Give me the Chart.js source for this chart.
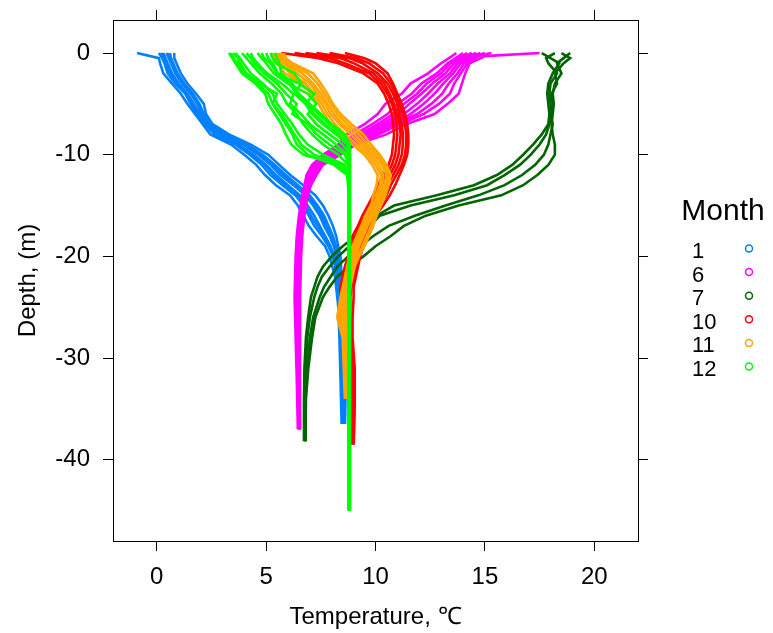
<!DOCTYPE html>
<html lang="en">
<head>
  <meta charset="UTF-8">
  <title>Temperature profiles by month</title>
  <script src="https://cdn.jsdelivr.net/npm/chart.js"></script>
  <style>
    body { margin: 0; background: #fff; }
  </style>
</head>
<body>
  <canvas id="profiles" width="773" height="633"></canvas>
  <script>
    const months = ['1', '6', '7', '10', '11', '12'];
    const monthColors = ['#0080ff', '#ff00ff', '#006400', '#ff0000', '#ffa500', '#00ff00'];
    const xTicks = [0, 5, 10, 15, 20];
    const yTicks = [0, -10, -20, -30, -40];

    // month 1
    const depthJan = [0, -0.5, -1, -2, -3, -4, -5, -6, -7, -8, -9, -10, -11, -12, -13, -14, -15, -16, -17, -18, -19, -20, -22, -25, -28, -32, -36.5];
    const janA = [-0.9, 0.1, 0.15, 0.3, 0.7, 1.1, 1.4, 1.75, 2.1, 2.45, 3.4, 4.0, 4.55, 4.95, 5.45, 6.1, 6.45, 6.7, 6.95, 7.3, 7.7, 7.9, 8.15, 8.3, 8.35, 8.4, 8.45];
    const janB = [0.1, 0.25, 0.35, 0.5, 0.85, 1.3, 1.55, 1.85, 2.2, 2.65, 3.6, 4.25, 4.8, 5.2, 5.75, 6.35, 6.7, 6.95, 7.2, 7.55, 7.85, 8.05, 8.25, 8.35, 8.4, 8.45, 8.5];
    const janG = [0.2, 0.35, 0.45, 0.6, 0.95, 1.35, 1.6, 1.9, 2.25, 2.7, 3.7, 4.35, 4.95, 5.35, 5.85, 6.45, 6.8, 7.05, 7.35, 7.65, 7.9, 8.1, 8.28, 8.38, 8.42, 8.48, 8.52];
    const janC = [0.3, 0.4, 0.5, 0.7, 1.0, 1.4, 1.7, 1.95, 2.3, 2.8, 3.75, 4.45, 5.0, 5.45, 6.0, 6.55, 6.9, 7.2, 7.45, 7.7, 7.95, 8.1, 8.3, 8.4, 8.45, 8.5, 8.55];
    const janD = [0.45, 0.55, 0.65, 0.85, 1.15, 1.55, 1.85, 2.05, 2.4, 2.95, 3.95, 4.65, 5.2, 5.65, 6.25, 6.8, 7.15, 7.45, 7.65, 7.9, 8.1, 8.2, 8.35, 8.45, 8.5, 8.55, 8.55];
    const janH = [0.55, 0.6, 0.7, 0.9, 1.2, 1.6, 1.9, 2.1, 2.45, 3.0, 4.0, 4.75, 5.3, 5.8, 6.35, 6.9, 7.25, 7.55, 7.75, 7.95, 8.15, 8.25, 8.38, 8.48, 8.52, 8.58, 8.58];
    const janE = [0.6, 0.65, 0.75, 0.95, 1.25, 1.65, 1.95, 2.15, 2.45, 3.1, 4.1, 4.85, 5.4, 5.9, 6.45, 7.0, 7.35, 7.65, 7.85, 8.05, 8.2, 8.3, 8.4, 8.5, 8.55, 8.6, 8.6];
    const janF = [0.8, 0.8, 0.9, 1.1, 1.4, 1.8, 2.15, 2.25, 2.55, 3.3, 4.3, 5.1, 5.6, 6.1, 6.7, 7.25, 7.6, 7.85, 8.05, 8.2, 8.3, 8.4, 8.45, 8.55, 8.6, 8.65, 8.6];

    // month 6
    const depthJun = [0, -0.3, -1, -2, -3, -4, -5, -6, -7, -8, -9, -10, -11, -12, -13, -14, -16, -18, -20, -24, -28, -32, -37];
    const junA = [13.7, 13.5, 13.0, 12.4, 11.6, 11.2, 10.45, 10.1, 9.5, 8.7, 8.3, 7.6, 7.1, 6.85, 6.75, 6.65, 6.5, 6.4, 6.35, 6.3, 6.35, 6.4, 6.45];
    const junB = [14.0, 13.8, 13.3, 12.8, 12.1, 11.65, 11.0, 10.55, 9.85, 9.05, 8.45, 7.75, 7.2, 6.9, 6.8, 6.7, 6.55, 6.45, 6.4, 6.35, 6.4, 6.45, 6.5];
    const junG = [14.2, 13.95, 13.45, 13.0, 12.35, 11.9, 11.3, 10.8, 10.1, 9.25, 8.55, 7.8, 7.25, 6.92, 6.82, 6.71, 6.57, 6.47, 6.42, 6.37, 6.41, 6.46, 6.5];
    const junC = [14.4, 14.1, 13.6, 13.2, 12.6, 12.1, 11.55, 11.05, 10.3, 9.45, 8.65, 7.9, 7.3, 6.95, 6.85, 6.72, 6.6, 6.5, 6.45, 6.4, 6.42, 6.47, 6.5];
    const junI = [14.6, 14.25, 13.75, 13.4, 12.85, 12.4, 11.9, 11.3, 10.5, 9.6, 8.7, 8.0, 7.35, 7.0, 6.88, 6.75, 6.62, 6.52, 6.47, 6.42, 6.45, 6.48, 6.51];
    const junD = [14.8, 14.4, 13.9, 13.55, 13.1, 12.7, 12.2, 11.6, 10.7, 9.8, 8.8, 8.05, 7.4, 7.05, 6.9, 6.78, 6.65, 6.55, 6.5, 6.45, 6.47, 6.5, 6.52];
    const junH = [15.0, 14.55, 14.05, 13.75, 13.35, 13.05, 12.55, 11.9, 10.9, 9.95, 8.9, 8.15, 7.45, 7.12, 6.95, 6.8, 6.68, 6.58, 6.52, 6.48, 6.48, 6.51, 6.53];
    const junE = [15.3, 14.7, 14.2, 13.9, 13.6, 13.4, 12.9, 12.2, 11.1, 10.15, 9.0, 8.25, 7.5, 7.2, 7.0, 6.85, 6.7, 6.6, 6.55, 6.5, 6.5, 6.52, 6.55];
    const junF = [17.5, 15.0, 14.3, 14.1, 13.95, 13.8, 13.3, 12.7, 11.4, 10.5, 9.1, 8.4, 7.6, 7.3, 7.05, 6.9, 6.75, 6.65, 6.6, 6.55, 6.55, 6.55, 6.55];

    // month 7
    const depthJul = [0, -0.5, -1, -2, -3, -4, -5, -6, -7, -8, -9, -10, -11, -12, -13, -14, -15, -16, -17, -18, -19, -20, -21, -22, -23, -24, -26, -28, -31, -34, -38.2];
    const julA = [17.6, 18.0, 18.4, 18.1, 17.9, 17.85, 17.9, 17.95, 17.9, 17.6, 17.2, 16.75, 16.25, 15.55, 14.5, 12.8, 10.85, 10.05, 9.6, 9.1, 8.5, 8.0, 7.6, 7.35, 7.2, 7.05, 6.92, 6.82, 6.75, 6.73, 6.73];
    const julB = [18.2, 17.8, 17.9, 18.3, 18.0, 17.95, 18.0, 18.05, 17.95, 17.8, 17.5, 17.1, 16.6, 15.9, 15.1, 13.6, 11.6, 10.2, 9.75, 9.3, 8.8, 8.3, 7.9, 7.55, 7.35, 7.2, 7.0, 6.88, 6.8, 6.77, 6.77];
    const julC = [18.5, 18.9, 18.6, 18.2, 18.3, 18.05, 18.1, 18.0, 18.1, 18.0, 17.9, 17.7, 17.3, 16.7, 15.9, 14.7, 13.2, 11.8, 10.6, 9.9, 9.3, 8.75, 8.25, 7.95, 7.65, 7.45, 7.15, 7.0, 6.88, 6.8, 6.8];
    const julD = [18.9, 18.6, 18.3, 18.5, 18.2, 18.1, 18.15, 18.1, 18.05, 18.1, 18.2, 18.2, 17.9, 17.4, 16.75, 15.75, 13.8, 12.3, 11.3, 10.7, 10.0, 9.45, 8.8, 8.25, 7.9, 7.6, 7.25, 7.1, 6.93, 6.82, 6.8];

    // month 10
    const depthOct = [0, -0.5, -1, -2, -3, -4, -5, -6, -7, -8, -9, -10, -11, -12, -13, -14, -15, -16, -17, -18, -19, -20, -21, -22, -23, -24, -26, -28, -31, -34, -38.5];
    const octA = [5.7, 7.4, 8.3, 9.45, 10.1, 10.4, 10.6, 10.75, 10.8, 10.85, 10.8, 10.75, 10.6, 10.35, 10.1, 9.9, 9.65, 9.4, 9.2, 8.95, 8.85, 8.75, 8.6, 8.5, 8.4, 8.4, 8.45, 8.6, 8.8, 8.85, 8.85];
    const octB = [6.3, 7.9, 8.6, 9.7, 10.25, 10.55, 10.75, 10.9, 10.95, 11.0, 10.95, 10.9, 10.75, 10.5, 10.25, 10.05, 9.8, 9.55, 9.3, 9.1, 8.95, 8.85, 8.7, 8.6, 8.55, 8.5, 8.55, 8.65, 8.85, 8.9, 8.9];
    const octC = [6.8, 8.4, 9.0, 9.9, 10.4, 10.65, 10.85, 11.0, 11.1, 11.15, 11.1, 11.05, 10.9, 10.65, 10.4, 10.2, 9.9, 9.65, 9.4, 9.2, 9.05, 8.95, 8.85, 8.75, 8.65, 8.6, 8.65, 8.75, 8.9, 8.95, 8.9];
    const octD = [7.3, 8.8, 9.4, 10.1, 10.55, 10.8, 11.0, 11.1, 11.2, 11.25, 11.25, 11.2, 11.05, 10.8, 10.55, 10.35, 10.05, 9.75, 9.5, 9.3, 9.2, 9.05, 8.95, 8.85, 8.8, 8.75, 8.75, 8.8, 8.95, 9.0, 8.95];
    const octE = [7.9, 9.1, 9.7, 10.35, 10.7, 10.9, 11.1, 11.25, 11.35, 11.4, 11.4, 11.35, 11.2, 10.95, 10.7, 10.5, 10.2, 9.9, 9.65, 9.45, 9.35, 9.2, 9.1, 9.0, 8.9, 8.85, 8.85, 8.9, 9.0, 9.05, 9.0];
    const octF = [8.6, 9.5, 10.0, 10.55, 10.8, 11.0, 11.2, 11.35, 11.45, 11.5, 11.5, 11.45, 11.3, 11.1, 10.9, 10.65, 10.35, 10.0, 9.75, 9.55, 9.45, 9.3, 9.2, 9.1, 9.0, 9.0, 8.95, 8.95, 9.05, 9.05, 9.0];

    // month 11
    const depthNov = [0, -0.5, -1, -2, -3, -4, -5, -6, -7, -8, -9, -10, -11, -12, -13, -14, -15, -16, -17, -18, -19, -20, -21, -22, -23, -24, -26, -28, -31, -34];
    const novA = [5.3, 5.4, 5.5, 5.85, 6.65, 7.05, 7.4, 7.65, 7.95, 8.4, 8.95, 9.5, 9.85, 10.1, 10.05, 9.9, 9.8, 9.55, 9.35, 9.15, 8.95, 8.8, 8.7, 8.6, 8.5, 8.4, 8.25, 8.5, 8.55, 8.6];
    const novB = [5.4, 5.5, 5.65, 6.1, 6.8, 7.2, 7.55, 7.8, 8.15, 8.6, 9.15, 9.65, 10.0, 10.25, 10.2, 10.05, 9.9, 9.65, 9.45, 9.25, 9.05, 8.9, 8.78, 8.67, 8.57, 8.5, 8.35, 8.55, 8.6, 8.65];
    const novC = [5.5, 5.6, 5.8, 6.4, 7.0, 7.35, 7.7, 7.95, 8.35, 8.85, 9.35, 9.8, 10.15, 10.35, 10.3, 10.15, 10.0, 9.75, 9.55, 9.35, 9.15, 9.0, 8.85, 8.75, 8.65, 8.58, 8.45, 8.62, 8.65, 8.7];
    const novD = [5.6, 5.7, 5.9, 6.65, 7.15, 7.5, 7.8, 8.1, 8.5, 9.05, 9.5, 9.95, 10.3, 10.5, 10.4, 10.25, 10.1, 9.85, 9.65, 9.45, 9.25, 9.1, 8.93, 8.83, 8.73, 8.66, 8.55, 8.7, 8.72, 8.75];
    const novE = [5.7, 5.8, 6.05, 6.9, 7.35, 7.65, 7.95, 8.25, 8.7, 9.25, 9.65, 10.1, 10.4, 10.6, 10.5, 10.35, 10.2, 9.95, 9.8, 9.6, 9.4, 9.2, 9.0, 8.9, 8.8, 8.73, 8.65, 8.75, 8.76, 8.78];
    const novF = [5.8, 5.9, 6.2, 7.15, 7.5, 7.8, 8.05, 8.4, 8.9, 9.45, 9.8, 10.2, 10.5, 10.7, 10.6, 10.45, 10.25, 10.05, 9.9, 9.7, 9.5, 9.25, 9.05, 8.95, 8.85, 8.8, 8.75, 8.8, 8.8, 8.8];

    // month 12
    const depthDec = [0, -0.5, -1, -2, -3, -4, -5, -6, -7, -8, -9, -10, -11, -12, -14, -17, -20, -25, -30, -35, -40, -45];
    const decA = [3.3, 3.45, 3.6, 3.9, 4.5, 4.95, 5.1, 5.4, 5.7, 5.9, 6.15, 6.7, 8.3, 8.74, 8.76, 8.76, 8.75, 8.76, 8.76, 8.75, 8.76, 8.76];
    const decL = [3.4, 3.5, 3.7, 4.0, 4.6, 5.1, 5.3, 5.6, 5.9, 6.2, 6.4, 6.9, 8.1, 8.7, 8.8, 8.8, 8.8, 8.8, 8.8, 8.8, 8.8, 8.8];
    const decH = [3.5, 3.7, 3.8, 4.1, 4.7, 5.5, 5.3, 5.7, 6.0, 6.3, 6.6, 7.2, 8.5, 8.78, 8.8, 8.8, 8.8, 8.8, 8.8, 8.8, 8.8, 8.8];
    const decB = [3.6, 3.8, 3.95, 4.3, 4.85, 5.3, 5.5, 5.85, 6.2, 6.5, 6.9, 7.6, 8.6, 8.78, 8.8, 8.8, 8.78, 8.8, 8.8, 8.8, 8.8, 8.8];
    const decC = [3.9, 4.1, 4.3, 4.7, 5.25, 5.7, 5.95, 6.4, 6.7, 7.1, 7.6, 8.3, 8.75, 8.8, 8.78, 8.8, 8.8, 8.8, 8.8, 8.8, 8.8, 8.8];
    const decI = [4.1, 4.3, 4.45, 4.9, 5.5, 5.9, 6.4, 6.2, 6.9, 7.3, 7.9, 8.6, 8.8, 8.8, 8.8, 8.8, 8.8, 8.8, 8.8, 8.8, 8.8, 8.8];
    const decD = [4.3, 4.4, 4.6, 5.05, 5.7, 6.25, 6.1, 6.6, 7.0, 7.6, 8.2, 8.7, 8.8, 8.8, 8.8, 8.8, 8.8, 8.8, 8.8, 8.8, 8.8, 8.8];
    const decE = [4.6, 4.8, 5.0, 5.35, 6.0, 6.9, 7.3, 6.9, 7.3, 7.9, 8.5, 8.8, 8.8, 8.8, 8.8, 8.8, 8.8, 8.8, 8.8, 8.8, 8.8, 8.8];
    const decJ = [4.8, 4.9, 5.2, 5.5, 6.5, 7.2, 6.8, 7.1, 7.6, 8.2, 8.7, 8.8, 8.8, 8.8, 8.8, 8.8, 8.8, 8.8, 8.8, 8.8, 8.8, 8.8];
    const decF = [5.0, 5.1, 5.3, 5.55, 6.05, 6.4, 6.9, 7.4, 7.9, 8.5, 8.75, 8.8, 8.8, 8.8, 8.8, 8.8, 8.8, 8.8, 8.8, 8.8, 8.8, 8.8];
    const decK = [5.2, 5.3, 5.45, 6.3, 6.6, 6.3, 6.8, 7.2, 7.7, 8.3, 8.7, 8.8, 8.8, 8.8, 8.8, 8.8, 8.8, 8.8, 8.8, 8.8, 8.8, 8.8];
    const decG = [5.4, 5.5, 5.6, 5.7, 6.2, 6.5, 7.0, 7.5, 8.0, 8.6, 8.82, 8.84, 8.84, 8.84, 8.84, 8.84, 8.84, 8.84, 8.84, 8.84, 8.84, 8.84];

    const groups = [
      [depthJan, [janA, janB, janG, janC, janD, janH, janE, janF]],
      [depthJun, [junA, junB, junG, junC, junI, junD, junH, junE, junF]],
      [depthJul, [julA, julB, julC, julD]],
      [depthOct, [octA, octB, octC, octD, octE, octF]],
      [depthNov, [novA, novB, novC, novD, novE, novF]],
      [depthDec, [decA, decL, decH, decB, decC, decI, decD, decE, decJ, decF, decK, decG]]
    ];

    const fontFamily = '"Liberation Sans", Arial, Helvetica, sans-serif';

    const datasets = [];
    groups.forEach(function([depth, runs], m) {
      runs.forEach(function(temps) {
        datasets.push({
          label: months[m],
          data: temps.map((t, i) => ({ x: t, y: depth[i] })),
          borderColor: monthColors[m],
          backgroundColor: monthColors[m],
          borderWidth: 2.6,
          pointRadius: 0,
          showLine: true,
          fill: false,
          tension: 0,
          order: groups.length - m
        });
      });
    });

    function setTicks(values) {
      return function(scale) {
        scale.ticks = values.map(v => ({ value: v }));
      };
    }

    // fixed axis sizes, and no extra room for half labels at the ends
    function fixSize(prop, size) {
      return function(scale) {
        scale[prop] = size;
        scale.paddingTop = 0;
        scale.paddingBottom = 0;
        scale.paddingLeft = 0;
        scale.paddingRight = 0;
      };
    }

    const tickGrid = { drawOnChartArea: false, drawTicks: true, tickLength: 10, color: '#000', lineWidth: 1 };
    const axisBorder = { display: true, color: '#000', width: 1 };

    const monthKey = {
      id: 'monthKey',
      afterDraw(chart) {
        const ctx = chart.ctx;
        ctx.save();
        ctx.fillStyle = '#000';
        ctx.textBaseline = 'middle';
        ctx.textAlign = 'center';
        ctx.font = '30px ' + fontFamily;
        ctx.fillText('Month', 723, 212);
        ctx.font = '22px ' + fontFamily;
        ctx.textAlign = 'left';
        months.forEach(function(m, i) {
          const y = 252 + i * 23.6;
          ctx.fillStyle = '#000';
          ctx.fillText(m, 692, y);
          ctx.beginPath();
          ctx.arc(749, y - 3.5, 3.5, 0, Math.PI * 2);
          ctx.strokeStyle = monthColors[i];
          ctx.lineWidth = 1.5;
          ctx.stroke();
        });
        ctx.restore();
      }
    };

    var ctx = document.getElementById('profiles').getContext('2d');
    var chart = new Chart(ctx, {
      type: 'scatter',
      data: { datasets: datasets },
      plugins: [monthKey],
      options: {
        responsive: false,
        animation: false,
        layout: { padding: 0 },
        plugins: {
          legend: { display: false },
          tooltip: { enabled: false }
        },
        scales: {
          x: {
            type: 'linear',
            position: 'bottom',
            min: -2,
            max: 22,
            afterBuildTicks: setTicks(xTicks),
            afterFit: fixSize('height', 92),
            grid: tickGrid,
            border: axisBorder,
            ticks: { color: '#000', padding: 12, maxRotation: 0, font: { size: 24, family: fontFamily } },
            title: {
              display: true,
              text: 'Temperature, ℃',
              color: '#000',
              font: { size: 24, family: fontFamily },
              padding: { top: 0, bottom: 1 }
            }
          },
          x2: {
            type: 'linear',
            position: 'top',
            min: -2,
            max: 22,
            afterBuildTicks: setTicks(xTicks),
            afterFit: fixSize('height', 20),
            grid: tickGrid,
            border: axisBorder,
            ticks: { display: false }
          },
          y: {
            type: 'linear',
            position: 'left',
            min: -48,
            max: 3.25,
            afterBuildTicks: setTicks(yTicks),
            afterFit: fixSize('width', 113),
            grid: tickGrid,
            border: axisBorder,
            ticks: { color: '#000', padding: 13, font: { size: 24, family: fontFamily } },
            title: {
              display: true,
              text: 'Depth, (m)',
              color: '#000',
              font: { size: 24, family: fontFamily },
              padding: { top: 14, bottom: 0 }
            }
          },
          y2: {
            type: 'linear',
            position: 'right',
            min: -48,
            max: 3.25,
            afterBuildTicks: setTicks(yTicks),
            afterFit: fixSize('width', 135),
            grid: tickGrid,
            border: axisBorder,
            ticks: { display: false }
          }
        }
      }
    });
  </script>
</body>
</html>
